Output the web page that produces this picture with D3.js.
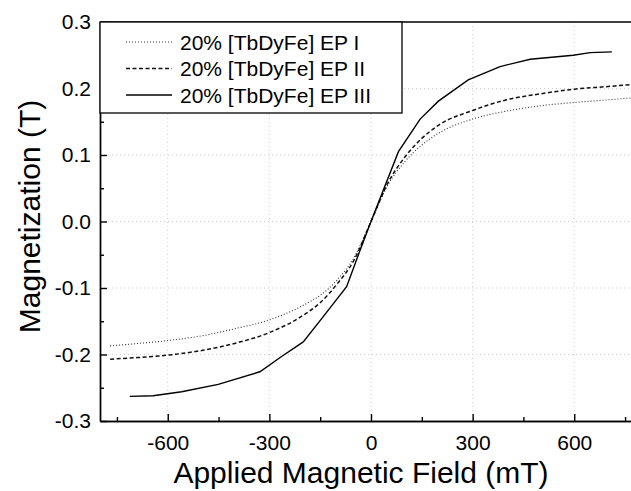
<!DOCTYPE html>
<html><head><meta charset="utf-8">
<script src="https://cdn.jsdelivr.net/npm/d3@7"></script>
<style>
html,body{margin:0;padding:0;background:#fff;}
svg{display:block;font-family:"Liberation Sans",Arial,sans-serif;}
</style></head>
<body><svg id="c" width="631" height="491"></svg>
<script>
// ---- data ----
const fieldsI  = [-770,-700,-600,-500,-400,-300,-200,-150,-100,-50,0,50,100,150,200,300,400,500,600,700,770];
const magI     = [-0.187,-0.184,-0.179,-0.172,-0.161,-0.148,-0.126,-0.111,-0.088,-0.054,0.0,0.055,0.090,0.115,0.133,0.154,0.166,0.174,0.179,0.183,0.186];
const fieldsII = [-770,-700,-600,-500,-400,-300,-200,-150,-100,-50,0,50,100,150,200,300,400,500,600,700,770];
const magII    = [-0.207,-0.205,-0.201,-0.194,-0.183,-0.167,-0.141,-0.122,-0.094,-0.058,0.0,0.058,0.097,0.125,0.145,0.167,0.183,0.192,0.199,0.203,0.206];
const fieldsIII= [-712,-643,-559,-451,-328,-264,-200,-141,-72,-32,0,81,145,199,287,381,470,597,647,711];
const magIII   = [-0.263,-0.262,-0.256,-0.245,-0.226,-0.203,-0.181,-0.143,-0.098,-0.043,0.0,0.105,0.154,0.181,0.213,0.233,0.244,0.250,0.254,0.255];
const seriesNames = ["20% [TbDyFe] EP I","20% [TbDyFe] EP II","20% [TbDyFe] EP III"];
const xMajor = [-600,-300,0,300,600];
const xMinor = [-750,-450,-150,150,450,750];
const yMajor = [-0.3,-0.2,-0.1,0.0,0.1,0.2,0.3];
const yMinor = [-0.25,-0.15,-0.05,0.05,0.15,0.25];
const xTitle = "Applied Magnetic Field (mT)";
const yTitle = "Magnetization (T)";

// ---- layout ----
const L=100, R=642, T=22, B=421;
const svg=d3.select("#c");
const x=d3.scaleLinear().domain([-800,800]).range([L,R]);
const y=d3.scaleLinear().domain([-0.3,0.3]).range([B,T]);
const hy = f => (d => f(d).replace("\u2212","-"));

// grid
const grid=svg.append("g").attr("stroke","#cfcfcf").attr("stroke-width",1).attr("stroke-dasharray","1,3");
grid.selectAll("line.gx").data(xMajor).join("line").attr("class","gx")
  .attr("x1",d=>x(d)).attr("x2",d=>x(d)).attr("y1",T).attr("y2",B);
grid.selectAll("line.gy").data(yMajor.filter(v=>Math.abs(v)<0.29)).join("line").attr("class","gy")
  .attr("x1",L).attr("x2",R).attr("y1",d=>y(d)).attr("y2",d=>y(d));

// series
const specs=[
  {f:fieldsI,m:magI,dash:"1,2",w:1.1,col:"#333",curve:d3.curveMonotoneX},
  {f:fieldsII,m:magII,dash:"4,2.5",w:1.5,col:"#111",curve:d3.curveMonotoneX},
  {f:fieldsIII,m:magIII,dash:null,w:1.4,col:"#000",curve:d3.curveLinear}
];
specs.forEach(s=>{
  const pts=s.f.map((v,i)=>[v,s.m[i]]);
  svg.append("path").datum(pts)
    .attr("fill","none").attr("stroke",s.col).attr("stroke-width",s.w)
    .attr("stroke-dasharray",s.dash)
    .attr("d",d3.line().x(d=>x(d[0])).y(d=>y(d[1])).curve(s.curve));
});

// axes
const fs=21;
const xAxis=svg.append("g").attr("transform",`translate(0,${B})`)
  .call(d3.axisBottom(x).tickValues(xMajor).tickSizeInner(-7).tickSizeOuter(0).tickPadding(14).tickFormat(hy(d3.format("d"))));
const xAxisMinor=svg.append("g").attr("transform",`translate(0,${B})`)
  .call(d3.axisBottom(x).tickValues(xMinor).tickSizeInner(-4).tickSizeOuter(0).tickFormat(""));
const yAxis=svg.append("g").attr("transform",`translate(${L},0)`)
  .call(d3.axisLeft(y).tickValues(yMajor).tickSizeInner(-7).tickSizeOuter(0).tickPadding(9).tickFormat(hy(d3.format(".1f"))));
const yAxisMinor=svg.append("g").attr("transform",`translate(${L},0)`)
  .call(d3.axisLeft(y).tickValues(yMinor).tickSizeInner(-4).tickSizeOuter(0).tickFormat(""));
[xAxis,xAxisMinor,yAxis,yAxisMinor].forEach(g=>{
  g.selectAll("path,line").attr("stroke","#000").attr("stroke-width",1.4);
  g.selectAll("text").attr("font-size",fs).attr("font-family","Liberation Sans, Arial, sans-serif").attr("fill","#000");
});
// top frame
svg.append("line").attr("x1",L).attr("x2",R).attr("y1",T).attr("y2",T).attr("stroke","#000").attr("stroke-width",1.4);
svg.append("line").attr("x1",R).attr("x2",R).attr("y1",T).attr("y2",B).attr("stroke","#000").attr("stroke-width",1.4);

// titles
svg.append("text").attr("x",(x(-800)+x(800))/2-10).attr("y",483).attr("text-anchor","middle")
  .attr("font-size",30).text(xTitle);
svg.append("text").attr("transform",`translate(40,${(T+B)/2-5}) rotate(-90)`).attr("text-anchor","middle")
  .attr("font-size",30).text(yTitle);

// legend
const lg=svg.append("g");
lg.append("rect").attr("x",L).attr("y",T).attr("width",302).attr("height",91)
  .attr("fill","#fff").attr("stroke","#000").attr("stroke-width",1.3);
const rowsY=[42,68.5,95];
specs.forEach((s,i)=>{
  lg.append("line").attr("x1",126).attr("x2",172).attr("y1",rowsY[i]).attr("y2",rowsY[i])
    .attr("stroke",s.col).attr("stroke-width",s.w).attr("stroke-dasharray",s.dash);
  lg.append("text").attr("x",180).attr("y",rowsY[i]).attr("dy","0.36em")
    .attr("font-size",21).text(seriesNames[i]);
});
</script></body></html>
